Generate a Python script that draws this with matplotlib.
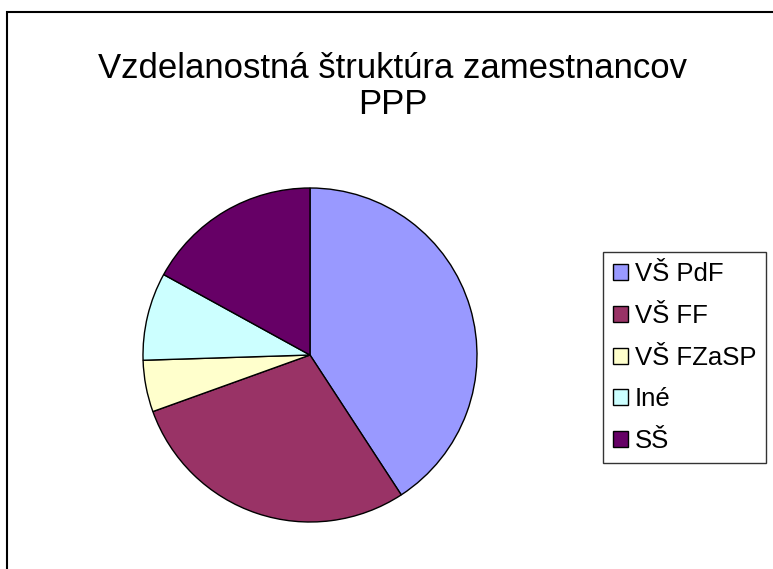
import numpy as np
import matplotlib as mpl
import matplotlib.pyplot as plt
from matplotlib.patches import Rectangle, Patch

mpl.rcParams['font.family'] = ['Liberation Sans', 'DejaVu Sans']

# data (share of employees, %)
labels = ["VŠ PdF", "VŠ FF", "VŠ FZaSP", "Iné", "SŠ"]
shares = [40.8, 28.7, 5.0, 8.5, 17.0]
colours = ["#9999FF", "#993366", "#FFFFCC", "#CCFFFF", "#660066"]

W, H = 773, 569
fig = plt.figure(figsize=(W / 100, H / 100), dpi=100)

# outer chart border (top and left edges visible, the rest is cut off)
fig.patches.append(Rectangle((7 / W, -0.1), 1.2, 1 - 12 / H + 0.1,
                             transform=fig.transFigure, fill=False,
                             edgecolor="black", linewidth=1.5))

# pie axes placed in pixels: centre (310, 355), radius 167
cx, cy, r = 310, 355, 167
ax = fig.add_axes([(cx - r) / W, (H - cy - r) / H, 2 * r / W, 2 * r / H])
ax.pie(shares, colors=colours, startangle=90, counterclock=False,
       wedgeprops={'edgecolor': 'black', 'linewidth': 1.0})
ax.set_xlim(-1, 1)
ax.set_ylim(-1, 1)
ax.set_aspect('equal')
ax.axis('off')

fig.text(393 / W, 1 - 69 / H, "Vzdelanostná štruktúra zamestnancov",
         ha='center', va='center', fontsize=25)
fig.text(393 / W, 1 - 105 / H, "PPP", ha='center', va='center', fontsize=25)

handles = [Patch(facecolor=c, edgecolor='black', linewidth=1.0) for c in colours]
leg = fig.legend(handles, labels, loc='upper left',
                 bbox_to_anchor=(603 / W, 1 - 252 / H), borderaxespad=0,
                 fontsize=18.5, frameon=True, fancybox=False,
                 edgecolor='black', handlelength=0.58, handleheight=0.58,
                 handletextpad=0.25, labelspacing=0.69, borderpad=0.4)
leg.get_frame().set_linewidth(1.0)

fig.savefig("out.png", dpi=100)
